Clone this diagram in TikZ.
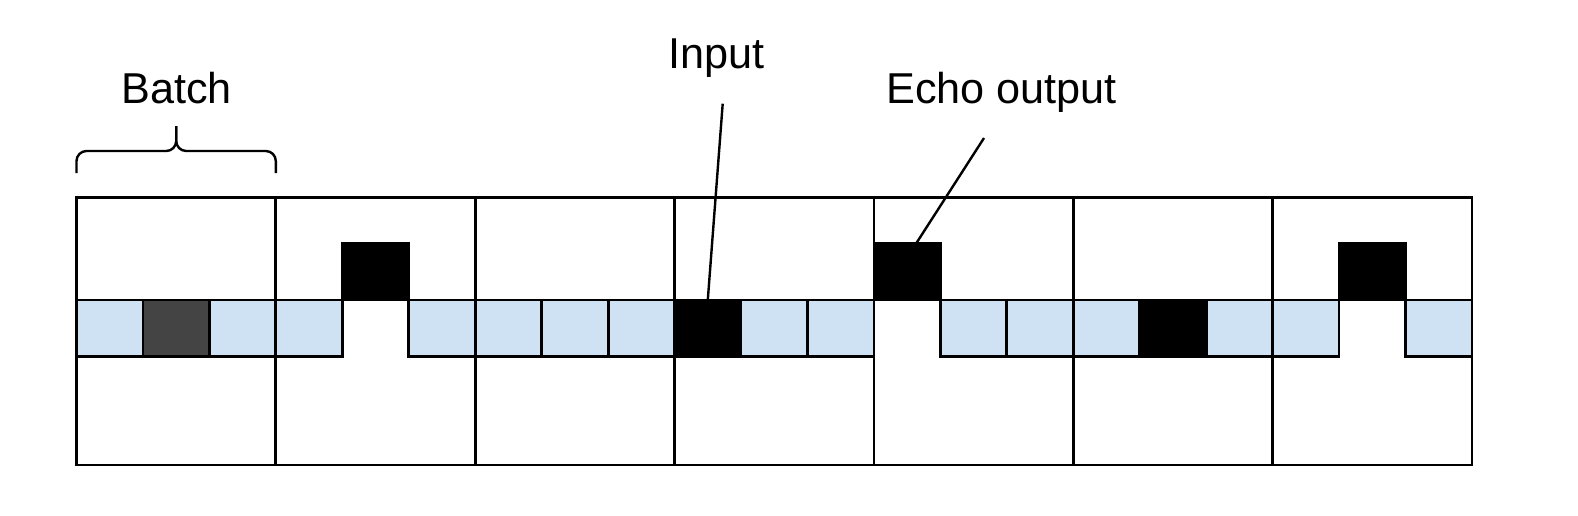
\documentclass[tikz,border=0pt]{standalone}
\usepackage{fontspec}
\setmainfont{Liberation Sans}
\usetikzlibrary{calc}
\usepackage{xcolor}
\definecolor{cellblue}{HTML}{CFE2F3}
\definecolor{cellgrey}{HTML}{444444}

\tikzset{
 cell/.style={draw, line width=1.4pt, minimum width=33.23pt, minimum height=28.25pt, inner sep=0, outer sep=0},
 light/.style={cell, fill=cellblue},
 dark/.style={cell, fill=cellgrey},
 black/.style={cell, fill=black},
 raised/.style={cell, fill=black, yshift=28.25pt},
 lbl/.style={font=\fontsize{21.6}{26}\selectfont, inner sep=1pt}
}

\begin{document}
\begin{tikzpicture}[x=0.5pt, y=-0.5pt, line width=1.4pt]
\useasboundingbox (0,0) rectangle (1578,515);
% batches
\draw (76.5,197.5) rectangle (1472,465);
\foreach \x in {1,...,6} {
 \draw ({76.5+199.36*\x},197.5) --++(0,267.5);
}
% sequence
\foreach \t [count=\k from 0, evaluate=\k as \cx using 109.73+66.45*\k] in
 {light,dark,light, light,raised,light, light,light,light, black,light,light,
  raised,light,light, light,black,light, light,raised,light} {
 \node[\t] (c\k) at (\cx,328.25) {};
}
% labels
\node[lbl] (batch) at (176.5,88.4) {Batch};
\node[lbl] (input) at (716.7,58.4) {Input};
\node[lbl] (echo) at (1001.5,92) {Echo output};
% brace
\coordinate (bracel) at (76.5,173);
\coordinate (bracer) at (275.8,173);
\coordinate (bracetip) at (176.2,126);
\draw[line width=1.2pt, rounded corners=5pt] (bracel) -- ++(0,-22) -| (bracetip);
\draw[line width=1.2pt, rounded corners=5pt] (bracer) -- ++(0,-22) -| (bracetip);
% pointers
\coordinate (inputtail) at (722.7,103.7);
\coordinate (echotail) at (984,138);
\draw[line width=1.2pt] (inputtail) -- (c9.north);
\draw[line width=1.2pt] (echotail) -- ([xshift=4.5pt]c12.north);
\end{tikzpicture}
\end{document}
